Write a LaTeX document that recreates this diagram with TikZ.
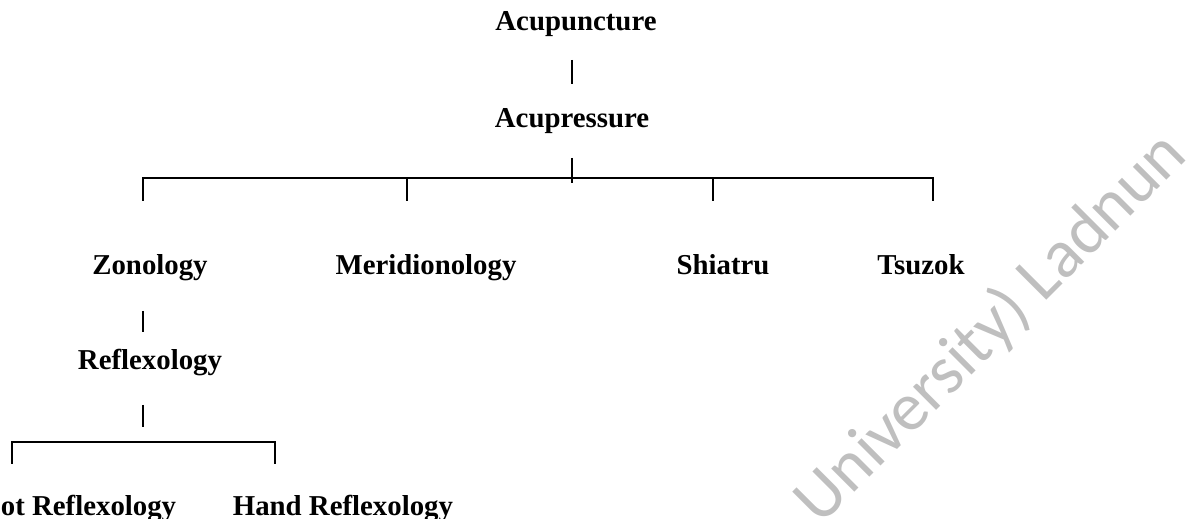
\documentclass[tikz,border=0pt]{standalone}
\usepackage{fontspec}
\setmainfont{Liberation Serif}
\newfontfamily\markfont{Carlito}
\begin{document}
\begin{tikzpicture}[x=0.02cm,y=-0.02cm,line width=1pt,
    term/.style={font=\bfseries\fontsize{16.4}{20}\selectfont,inner sep=0pt,
      text height=11.3pt,text depth=3.4pt}]
  \useasboundingbox (0,0) rectangle (1202,519);
  % watermark
  \node[rotate=45,anchor=base west,inner sep=0pt,text=black!25,
    font=\markfont\fontsize{39}{44}\selectfont] (mark) at (820,527) {University) Ladnun};
  % terms
  \node[term,anchor=base] (acupuncture) at (576,31) {Acupuncture};
  \node[term,anchor=base] (acupressure) at (572,128) {Acupressure};
  \node[term,anchor=base] (zonology) at (150,275) {Zonology};
  \node[term,anchor=base] (meridionology) at (426,275) {Meridionology};
  \node[term,anchor=base] (shiatru) at (723,275) {Shiatru};
  \node[term,anchor=base] (tsuzok) at (921,275) {Tsuzok};
  \node[term,anchor=base] (reflexology) at (150,370) {Reflexology};
  \node[term,anchor=base east] (foot) at (177,515) {Foot Reflexology};
  \node[term,anchor=base west] (hand) at (232,515) {Hand Reflexology};
  % bracket points
  \coordinate (hub) at (572,183);
  \coordinate (bar-z) at (143,178);
  \coordinate (bar-m) at (407,178);
  \coordinate (bar-s) at (713,178);
  \coordinate (bar-t) at (933,178);
  \coordinate (drop-z) at (143,201);
  \coordinate (drop-m) at (407,201);
  \coordinate (drop-s) at (713,201);
  \coordinate (drop-t) at (933,201);
  \coordinate (bar-r) at (143,442);
  \coordinate (bar-f) at (12,442);
  \coordinate (bar-h) at (275,442);
  \coordinate (drop-f) at (12,464);
  \coordinate (drop-h) at (275,464);
  % connectors
  \draw[shorten <=0.44cm,shorten >=0.46cm] (acupuncture.south -| hub) -- (acupressure.north -| hub);
  \draw[shorten <=0.46cm] (acupressure.south -| hub) -- (hub);
  \draw (drop-z) -- (bar-z) -- (bar-t) -- (drop-t);
  \draw (bar-m) -- (drop-m);
  \draw (bar-s) -- (drop-s);
  \draw[shorten <=0.58cm,shorten >=0.34cm] (zonology.south -| bar-z) -- (reflexology.north -| bar-z);
  \draw[shorten <=0.56cm,shorten >=0.30cm] (reflexology.south -| bar-z) -- (bar-r);
  \draw (drop-f) -- (bar-f) -- (bar-h) -- (drop-h);
\end{tikzpicture}
\end{document}
